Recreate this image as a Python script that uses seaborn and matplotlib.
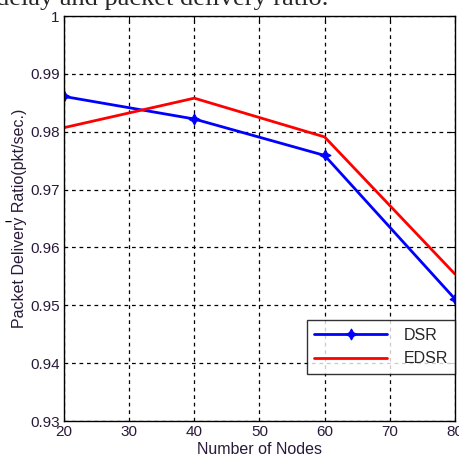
import matplotlib
matplotlib.use("Agg")
import matplotlib.pyplot as plt
import seaborn as sns
import pandas as pd

nodes = [20, 40, 60, 80]
dsr = [0.9861, 0.9822, 0.9759, 0.9511]
edsr = [0.9807, 0.9858, 0.9791, 0.9554]
xticks = [20, 30, 40, 50, 60, 70, 80]
yticks = [0.93, 0.94, 0.95, 0.96, 0.97, 0.98, 0.99, 1.0]
ytick_labels = ["0.93", "0.94", "0.95", "0.96", "0.97", "0.98", "0.99", "1"]

sns.set_style("white")
plt.rcParams['font.family'] = ['Liberation Sans', 'DejaVu Sans']

df = pd.DataFrame({"Nodes": nodes * 2, "PDR": dsr + edsr,
                   "Protocol": ["DSR"] * 4 + ["EDSR"] * 4})

fig = plt.figure(figsize=(4.6, 4.63), dpi=100)
ax = fig.add_axes([0.139, 0.0907, 0.850, 0.8747])

sns.lineplot(data=df[df.Protocol == "DSR"], x="Nodes", y="PDR", color="#0000ff",
             lw=2, marker=(4, 1, 0), markersize=8, markeredgecolor="#0000ff",
             label="DSR", ax=ax)
sns.lineplot(data=df[df.Protocol == "EDSR"], x="Nodes", y="PDR", color="#ff0000",
             lw=2, label="EDSR", ax=ax)

ax.set_xlim(20, 80)
ax.set_ylim(0.93, 1.0)
ax.set_xticks(xticks)
ax.set_yticks(yticks)
ax.set_yticklabels(ytick_labels)
ax.grid(True, color="black", linestyle=(0, (3, 3)), linewidth=0.9)
for s in ax.spines.values():
    s.set_color("black")
    s.set_linewidth(1)
ax.tick_params(axis="both", labelsize=11, colors="black", direction="in", length=4,
               width=0.8, top=True, right=True, pad=3)
for lbl in ax.get_xticklabels() + ax.get_yticklabels():
    lbl.set_color("#2a1a3a")
ax.set_xlabel("Number of Nodes", fontsize=11.5, color="#2a1a3a", labelpad=2)
ax.set_ylabel("Packet Delivery Ratio(pkt/sec.)", fontsize=11.5, color="#2a1a3a", labelpad=2)

leg = ax.legend(loc="lower right", bbox_to_anchor=(1.0, 0.117), borderaxespad=0,
                fontsize=11.5, frameon=True, fancybox=False, handlelength=4.6,
                handletextpad=1.0, borderpad=0.45, labelspacing=0.55)
leg.get_frame().set_edgecolor("black")
leg.get_frame().set_linewidth(1)

fig.text(-0.008, 1 - 5 / 463, "delay and packet delivery ratio.", family="Liberation Serif",
         fontsize=19, va="baseline", ha="left")
fig.text(8 / 460, 1 - 222 / 463, "\u2013", fontsize=9, fontweight="bold", ha="center",
         va="center", color="black")

fig.savefig("out.png", dpi=100)
